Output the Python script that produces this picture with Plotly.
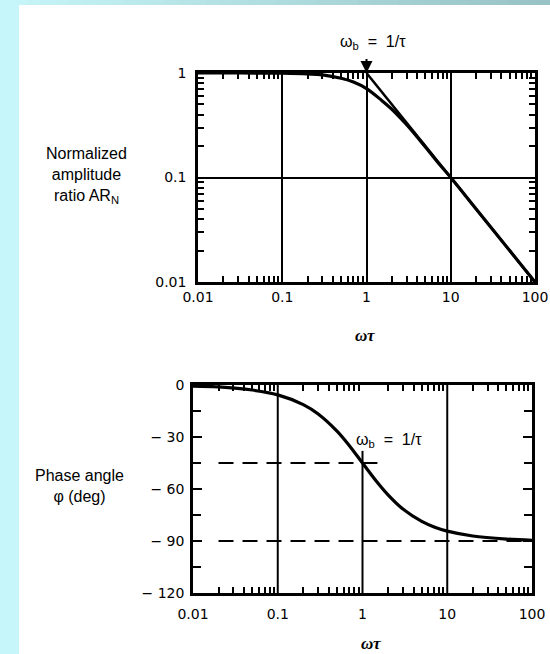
import plotly.graph_objects as go

# ---- data ----
wt = [0.01, 0.02, 0.05, 0.1, 0.2, 0.3, 0.5, 0.7, 1, 1.5, 2, 3, 5, 7, 10, 20, 50, 100]
ar_n = [1.0, 1.0, 0.999, 0.995, 0.98, 0.96, 0.89, 0.82, 0.71, 0.55, 0.45, 0.32,
        0.196, 0.14, 0.1, 0.05, 0.02, 0.01]
phase = [-0.6, -1.1, -2.9, -5.7, -11.3, -16.7, -26.6, -35.0, -45.0, -56.3, -63.4,
         -71.6, -78.7, -81.9, -84.3, -87.1, -88.9, -89.6]
asym_wt = [1, 100]
asym_ar = [1, 0.01]
half_line_wt = [0.02, 1.5]
half_line_phase = [-45, -45]
ninety_line_wt = [0.02, 100]
ninety_line_phase = [-90, -90]

x_tickvals = [0.01, 0.1, 1, 10, 100]
x_ticktext = ["0.01", "0.1", "1", "10", "100"]
ar_tickvals = [0.01, 0.1, 1]
ar_ticktext = ["0.01", "0.1", "1"]
ph_tickvals = [0, -30, -60, -90, -120]
ph_ticktext = ["0", "\u2212 30", "\u2212 60", "\u2212 90", "\u2212 120"]

W, H = 550, 654
FONT = "Liberation Sans"
TICKFONT = "DejaVu Sans"


def px_x(p):
    return p / W


def px_y(p):
    return 1 - p / H


minor_x = [m * 10 ** e for e in range(-2, 2) for m in range(2, 10)]
minor_ar = [m * 10 ** e for e in range(-2, 0) for m in range(2, 10)]

fig = go.Figure()

line_style = dict(color="black", width=3.2)
fig.add_trace(go.Scatter(x=wt, y=ar_n, mode="lines", line=dict(shape="spline", **line_style),
                         xaxis="x", yaxis="y", showlegend=False, hoverinfo="skip"))
fig.add_trace(go.Scatter(x=asym_wt, y=asym_ar, mode="lines", line=dict(color="black", width=2.5),
                         xaxis="x", yaxis="y", showlegend=False, hoverinfo="skip"))

# bottom grid lines
for gx, y0 in [(0.1, 0), (10, 0), (1, -38)]:
    fig.add_trace(go.Scatter(x=[gx, gx], y=[y0, -120], mode="lines",
                             line=dict(color="black", width=2),
                             xaxis="x2", yaxis="y2", showlegend=False, hoverinfo="skip"))
fig.add_trace(go.Scatter(x=half_line_wt, y=half_line_phase, mode="lines",
                         line=dict(color="black", width=1.8, dash="15px,9px"),
                         xaxis="x2", yaxis="y2", showlegend=False, hoverinfo="skip"))
fig.add_trace(go.Scatter(x=ninety_line_wt, y=ninety_line_phase, mode="lines",
                         line=dict(color="black", width=1.8, dash="15px,9px"),
                         xaxis="x2", yaxis="y2", showlegend=False, hoverinfo="skip"))
fig.add_trace(go.Scatter(x=wt, y=phase, mode="lines", line=dict(shape="spline", **line_style),
                         xaxis="x2", yaxis="y2", showlegend=False, hoverinfo="skip"))

tickfont = dict(family=TICKFONT, size=14, color="black")
common = dict(showline=True, linewidth=2.5, linecolor="black", mirror="ticks",
              ticks="inside", tickcolor="black", tickwidth=2, tickfont=tickfont,
              zeroline=False, automargin=False)

fig.update_layout(
    template="none",
    width=W, height=H,
    margin=dict(l=0, r=0, t=0, b=0, pad=0, autoexpand=False),
    paper_bgcolor="white", plot_bgcolor="white",
    xaxis=dict(type="log", range=[-2, 2], domain=[px_x(198), px_x(535)], anchor="y",
               tickmode="array", tickvals=x_tickvals, ticktext=x_ticktext, ticklen=0,
               showgrid=True, gridcolor="black", gridwidth=2.2,
               minor=dict(tickmode="array", tickvals=minor_x, ticks="inside", ticklen=6,
                          tickcolor="black", tickwidth=1.5, showgrid=False),
               ticklabelstandoff=0,
               **common),
    yaxis=dict(type="log", range=[-2, 0], domain=[px_y(282), px_y(73)], anchor="x",
               tickmode="array", tickvals=ar_tickvals, ticktext=ar_ticktext, ticklen=0,
               showgrid=True, gridcolor="black", gridwidth=1.5,
               minor=dict(tickmode="array", tickvals=minor_ar, ticks="inside", ticklen=6,
                          tickcolor="black", tickwidth=1.5, showgrid=False),
               ticklabelstandoff=6,
               **common),
    xaxis2=dict(type="log", range=[-2, 2], domain=[px_x(193), px_x(532)], anchor="y2",
                tickmode="array", tickvals=x_tickvals, ticktext=x_ticktext, ticklen=0,
                showgrid=False,
                minor=dict(tickmode="array", tickvals=minor_x, ticks="inside", ticklen=6,
                           tickcolor="black", tickwidth=1.5, showgrid=False),
                ticklabelstandoff=6,
                **common),
    yaxis2=dict(range=[-120, 0], domain=[px_y(593), px_y(385)], anchor="x2",
                tickmode="array", tickvals=ph_tickvals, ticktext=ph_ticktext, ticklen=9,
                showgrid=False,
                minor=dict(tickmode="array", tickvals=[-15, -45, -75, -105], ticks="inside",
                           ticklen=8, tickcolor="black", tickwidth=2, showgrid=False),
                ticklabelstandoff=3,
                **common),
)

# background frame (cyan strips)
shapes = [dict(type="rect", xref="paper", yref="paper", x0=0, x1=px_x(19), y0=0, y1=1,
               fillcolor="#C6F6F9", line=dict(width=0), layer="below")]
n = 40
c0 = (0xC6, 0xF6, 0xF9)
c1 = (0x98, 0xC2, 0xC3)
for i in range(n):
    t = i / (n - 1)
    col = "rgb(%d,%d,%d)" % tuple(round(a + (b - a) * t) for a, b in zip(c0, c1))
    shapes.append(dict(type="rect", xref="paper", yref="paper",
                       x0=i / n, x1=(i + 1) / n + 0.002, y0=px_y(5), y1=1,
                       fillcolor=col, line=dict(width=0), layer="below"))
fig.update_layout(shapes=shapes)

lab = dict(family=FONT, size=16, color="black")
wt_font = dict(family="Liberation Serif", size=17, color="black")
wb_font = dict(family=FONT, size=16, color="black")
base = dict(xref="paper", yref="paper", showarrow=False, xanchor="center", yanchor="middle")
ann = [
    dict(text="Normalized<br>amplitude<br>ratio AR<sub>N</sub>", x=px_x(86), y=px_y(176),
         font=lab, align="center", **base),
    dict(text="Phase angle<br>\u03c6 (deg)", x=px_x(79), y=px_y(486),
         font=lab, align="center", **base),
    dict(text="<b><i>\u03c9\u03c4</i></b>", x=px_x(365), y=px_y(335), font=wt_font, **base),
    dict(text="<b><i>\u03c9\u03c4</i></b>", x=px_x(371), y=px_y(643), font=wt_font,
         xref="paper", yref="paper", showarrow=False, xanchor="center", yanchor="middle"),
    dict(text="\u03c9<sub>b</sub>&nbsp;&nbsp;=&nbsp;&nbsp;1/\u03c4", x=px_x(373), y=px_y(42),
         font=wb_font, **base),
    dict(text="\u03c9<sub>b</sub>&nbsp;&nbsp;=&nbsp;&nbsp;1/\u03c4", x=px_x(389), y=px_y(440),
         font=wb_font, **base),
    dict(text=" ", x=0, y=0, xref="x", yref="y", showarrow=True, ax=0, ay=-24,
         arrowhead=2, arrowsize=1.2, arrowwidth=2, arrowcolor="black"),
]
fig.update_layout(annotations=ann)

fig.write_html("out.html",
               post_script="document.body.style.margin='0';document.body.style.padding='0';"
                           "document.documentElement.style.overflow='hidden';")
